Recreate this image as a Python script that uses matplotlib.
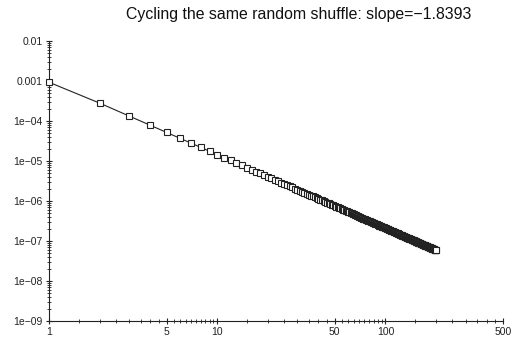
import numpy as np
import matplotlib
matplotlib.use("Agg")
import matplotlib.pyplot as plt
from matplotlib.ticker import FixedLocator, NullFormatter

plt.rcParams['font.family'] = ['Liberation Sans', 'DejaVu Sans']

title = "Cycling the same random shuffle: slope=\u22121.8393"

x_values = list(range(1, 201))
y_values = [
    9.3e-4, 2.80e-4, 1.33e-4, 7.81e-5, 5.18e-5, 3.71e-5, 2.79e-5, 2.18e-5, 1.76e-5, 1.45e-5,
    1.21e-5, 1.04e-5, 8.93e-6, 7.80e-6, 6.87e-6, 6.10e-6, 5.46e-6, 4.91e-6, 4.45e-6, 4.05e-6,
    3.70e-6, 3.40e-6, 3.13e-6, 2.89e-6, 2.68e-6, 2.50e-6, 2.33e-6, 2.18e-6, 2.04e-6, 1.92e-6,
    1.81e-6, 1.70e-6, 1.61e-6, 1.52e-6, 1.45e-6, 1.37e-6, 1.31e-6, 1.24e-6, 1.18e-6, 1.13e-6,
    1.08e-6, 1.03e-6, 9.90e-7, 9.49e-7, 9.10e-7, 8.74e-7, 8.40e-7, 8.09e-7, 7.79e-7, 7.50e-7,
    7.23e-7, 6.98e-7, 6.74e-7, 6.51e-7, 6.30e-7, 6.09e-7, 5.89e-7, 5.71e-7, 5.53e-7, 5.36e-7,
    5.20e-7, 5.05e-7, 4.90e-7, 4.76e-7, 4.63e-7, 4.50e-7, 4.38e-7, 4.26e-7, 4.15e-7, 4.04e-7,
    3.94e-7, 3.84e-7, 3.74e-7, 3.65e-7, 3.56e-7, 3.47e-7, 3.39e-7, 3.31e-7, 3.23e-7, 3.16e-7,
    3.09e-7, 3.02e-7, 2.95e-7, 2.89e-7, 2.83e-7, 2.77e-7, 2.71e-7, 2.65e-7, 2.60e-7, 2.54e-7,
    2.49e-7, 2.44e-7, 2.39e-7, 2.35e-7, 2.30e-7, 2.26e-7, 2.22e-7, 2.18e-7, 2.14e-7, 2.10e-7,
    2.06e-7, 2.02e-7, 1.99e-7, 1.95e-7, 1.92e-7, 1.88e-7, 1.85e-7, 1.82e-7, 1.79e-7, 1.76e-7,
    1.73e-7, 1.70e-7, 1.67e-7, 1.65e-7, 1.62e-7, 1.60e-7, 1.57e-7, 1.55e-7, 1.52e-7, 1.50e-7,
    1.48e-7, 1.45e-7, 1.43e-7, 1.41e-7, 1.39e-7, 1.37e-7, 1.35e-7, 1.33e-7, 1.31e-7, 1.29e-7,
    1.28e-7, 1.26e-7, 1.24e-7, 1.22e-7, 1.21e-7, 1.19e-7, 1.17e-7, 1.16e-7, 1.14e-7, 1.13e-7,
    1.11e-7, 1.10e-7, 1.09e-7, 1.07e-7, 1.06e-7, 1.04e-7, 1.03e-7, 1.02e-7, 1.01e-7, 9.94e-8,
    9.82e-8, 9.70e-8, 9.59e-8, 9.47e-8, 9.36e-8, 9.25e-8, 9.14e-8, 9.04e-8, 8.93e-8, 8.83e-8,
    8.73e-8, 8.63e-8, 8.53e-8, 8.44e-8, 8.35e-8, 8.25e-8, 8.16e-8, 8.07e-8, 7.99e-8, 7.90e-8,
    7.81e-8, 7.73e-8, 7.65e-8, 7.57e-8, 7.49e-8, 7.41e-8, 7.33e-8, 7.26e-8, 7.18e-8, 7.11e-8,
    7.04e-8, 6.97e-8, 6.90e-8, 6.83e-8, 6.76e-8, 6.69e-8, 6.63e-8, 6.56e-8, 6.50e-8, 6.44e-8,
    6.37e-8, 6.31e-8, 6.25e-8, 6.20e-8, 6.14e-8, 6.08e-8, 6.02e-8, 5.97e-8, 5.91e-8, 5.86e-8,
]

x_ticks = [1, 5, 10, 50, 100, 500]
x_tick_labels = ["1", "5", "10", "50", "100", "500"]
y_ticks = [1e-9, 1e-8, 1e-7, 1e-6, 1e-5, 1e-4, 1e-3, 1e-2]
y_tick_labels = ["1e\u221209", "1e\u221208", "1e\u221207", "1e\u221206", "1e\u221205",
                 "1e\u221204", "0.001", "0.01"]

fig = plt.figure(figsize=(5.14, 3.37), dpi=100)
ax = fig.add_axes([49/514, 1 - 321/337, (503 - 49)/514, (321 - 41)/337])

ax.plot(x_values, y_values, color='#222222', linewidth=0.8,
        marker='s', markersize=5.0, markerfacecolor='white',
        markeredgecolor='#222222', markeredgewidth=0.8, clip_on=False, zorder=3)

ax.set_xscale('log')
ax.set_yscale('log')
ax.set_xlim(1, 500)
ax.set_ylim(1e-9, 1e-2)

ax.xaxis.set_major_locator(FixedLocator(x_ticks))
ax.set_xticklabels(x_tick_labels)
minor_x = (list(np.arange(1.5, 5, 0.5)) + list(np.arange(5.5, 10, 0.5)) +
           list(range(15, 50, 5)) + list(range(55, 100, 5)) + list(range(150, 500, 50)))
ax.xaxis.set_minor_locator(FixedLocator(minor_x))
ax.xaxis.set_minor_formatter(NullFormatter())

ax.yaxis.set_major_locator(FixedLocator(y_ticks))
ax.set_yticklabels(y_tick_labels)
minor_y = [m * 10.0**e for e in range(-9, -2) for m in range(2, 10)]
ax.yaxis.set_minor_locator(FixedLocator(minor_y))
ax.yaxis.set_minor_formatter(NullFormatter())

for s in ['top', 'right']:
    ax.spines[s].set_visible(False)
for s in ['left', 'bottom']:
    ax.spines[s].set_linewidth(0.8)
    ax.spines[s].set_color('#222222')

ax.tick_params(axis='both', which='major', direction='inout', length=5, width=0.8,
               labelsize=7.5, colors='#222222', pad=2)
ax.tick_params(axis='both', which='minor', direction='inout', length=3, width=0.6,
               colors='#222222')

fig.text(299/514, 1 - 14/337, title, ha='center', va='center', fontsize=11.4, color='#111111')

fig.savefig("out.png", dpi=100)
